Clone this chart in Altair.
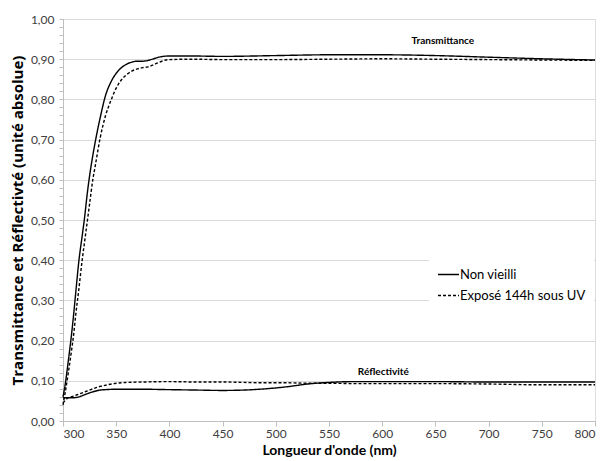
import altair as alt
import pandas as pd

# ---- data ----
wl_T = [300, 302, 305, 308, 310, 312, 315, 318, 320, 323, 325, 328, 330, 335, 340, 345,
        350, 355, 360, 365, 370, 375, 380, 385, 390, 400, 420, 450, 500, 550, 600, 650,
        700, 750, 800]
T_non = [0.06, 0.09, 0.15, 0.215, 0.265, 0.32, 0.40, 0.46, 0.50, 0.57, 0.61, 0.66, 0.69,
         0.755, 0.81, 0.843, 0.865, 0.879, 0.888, 0.893, 0.895, 0.895, 0.897, 0.901, 0.905,
         0.908, 0.908, 0.907, 0.909, 0.911, 0.911, 0.909, 0.905, 0.901, 0.898]
T_uv = [0.04, 0.07, 0.12, 0.175, 0.215, 0.265, 0.33, 0.40, 0.44, 0.50, 0.54, 0.60, 0.63,
        0.705, 0.76, 0.797, 0.828, 0.849, 0.862, 0.871, 0.876, 0.879, 0.881, 0.886, 0.892,
        0.899, 0.900, 0.899, 0.899, 0.900, 0.901, 0.900, 0.899, 0.898, 0.897]

wl_R = [300, 305, 310, 315, 320, 325, 330, 335, 340, 350, 360, 375, 400, 425, 450, 470,
        490, 510, 530, 550, 575, 600, 650, 700, 750, 800]
R_non = [0.058, 0.058, 0.058, 0.060, 0.065, 0.070, 0.074, 0.077, 0.078, 0.079, 0.079,
         0.079, 0.078, 0.077, 0.076, 0.077, 0.080, 0.085, 0.092, 0.096, 0.098, 0.098,
         0.098, 0.097, 0.097, 0.097]
R_uv = [0.045, 0.058, 0.062, 0.067, 0.072, 0.077, 0.082, 0.086, 0.089, 0.094, 0.096,
        0.097, 0.098, 0.097, 0.097, 0.096, 0.095, 0.095, 0.094, 0.094, 0.093, 0.093,
        0.093, 0.092, 0.090, 0.090]

series_names = ["Non vieilli", "Exposé 144h sous UV"]

ann_text = ["Transmittance", "Réflectivité"]
ann_wl = [657, 601]
ann_val = [0.945, 0.121]

y_ticks = [round(i * 0.02, 2) for i in range(51)]
x_ticks = list(range(300, 801, 50))

# ---- build table ----
rows = []
for w, a, b in zip(wl_T, T_non, T_uv):
    rows.append({"wl": w, "v": a, "serie": series_names[0], "curve": "T0"})
    rows.append({"wl": w, "v": b, "serie": series_names[1], "curve": "T1"})
for w, a, b in zip(wl_R, R_non, R_uv):
    rows.append({"wl": w, "v": a, "serie": series_names[0], "curve": "R0"})
    rows.append({"wl": w, "v": b, "serie": series_names[1], "curve": "R1"})
df = pd.DataFrame(rows)
ann = pd.DataFrame({"t": ann_text, "wl": ann_wl, "v": ann_val})

FONT = "Lato"
major = "abs(datum.value*10 - round(datum.value*10)) < 0.001"

xscale = alt.Scale(domain=[300, 800], nice=False, zero=False)
yscale = alt.Scale(domain=[0, 1], nice=False)

lines = alt.Chart(df).mark_line(color="black", strokeWidth=1.4, interpolate="monotone").encode(
    x=alt.X("wl:Q", scale=xscale,
            axis=alt.Axis(values=x_ticks, tickCount=len(x_ticks),
                          title="Longueur d'onde (nm)", grid=False,
                          labelOverlap=False,
                          tickSize=5, tickColor="#bfbfbf", domainColor="#bfbfbf",
                          labelFontSize=12, labelColor="#404040", labelFont=FONT,
                          labelPadding=2, titleFont=FONT, titleFontSize=14,
                          titleFontWeight="bold", titleColor="#000000", titlePadding=4)),
    y=alt.Y("v:Q", scale=yscale,
            axis=alt.Axis(values=y_ticks, tickCount=len(y_ticks),
                          title="Transmittance et Réflectivté (unité absolue)",
                          labelOverlap=False,
                          labelExpr=major + " ? replace(format(datum.value, '.2f'), '.', ',') : ''",
                          gridColor="#d9d9d9",
                          gridOpacity={"condition": {"test": major, "value": 1}, "value": 0},
                          tickSize=4, tickColor="#bfbfbf", domainColor="#bfbfbf",
                          labelFontSize=12, labelColor="#404040", labelFont=FONT,
                          labelPadding=5, titleFont="Open Sans", titleFontSize=15,
                          titleFontWeight="bold", titleColor="#000000", titlePadding=5)),
    strokeDash=alt.StrokeDash("serie:N",
                              scale=alt.Scale(domain=series_names, range=[[1, 0], [3, 2]]),
                              legend=alt.Legend(title=None, orient="none", legendX=366,
                                                legendY=236, symbolType="stroke",
                                                symbolSize=441, symbolStrokeColor="black",
                                                symbolStrokeWidth=1.4, labelFontSize=13,
                                                labelFont=FONT, labelColor="#000000",
                                                labelOffset=0, rowPadding=2,
                                                fillColor="white", padding=8)),
    detail="curve:N",
)

labels = alt.Chart(ann).mark_text(font=FONT, fontSize=10, fontWeight="bold",
                                  color="black").encode(
    x=alt.X("wl:Q", scale=xscale),
    y=alt.Y("v:Q", scale=yscale),
    text="t:N",
)

chart = alt.layer(lines, labels).properties(
    width=532, height=402,
    autosize=alt.AutoSizeParams(type="none"),
    padding={"left": 63, "top": 19, "right": 9, "bottom": 40},
).configure_view(stroke=None).configure(background="white")

chart.save("out.html", embed_options={"renderer": "svg", "actions": False})
